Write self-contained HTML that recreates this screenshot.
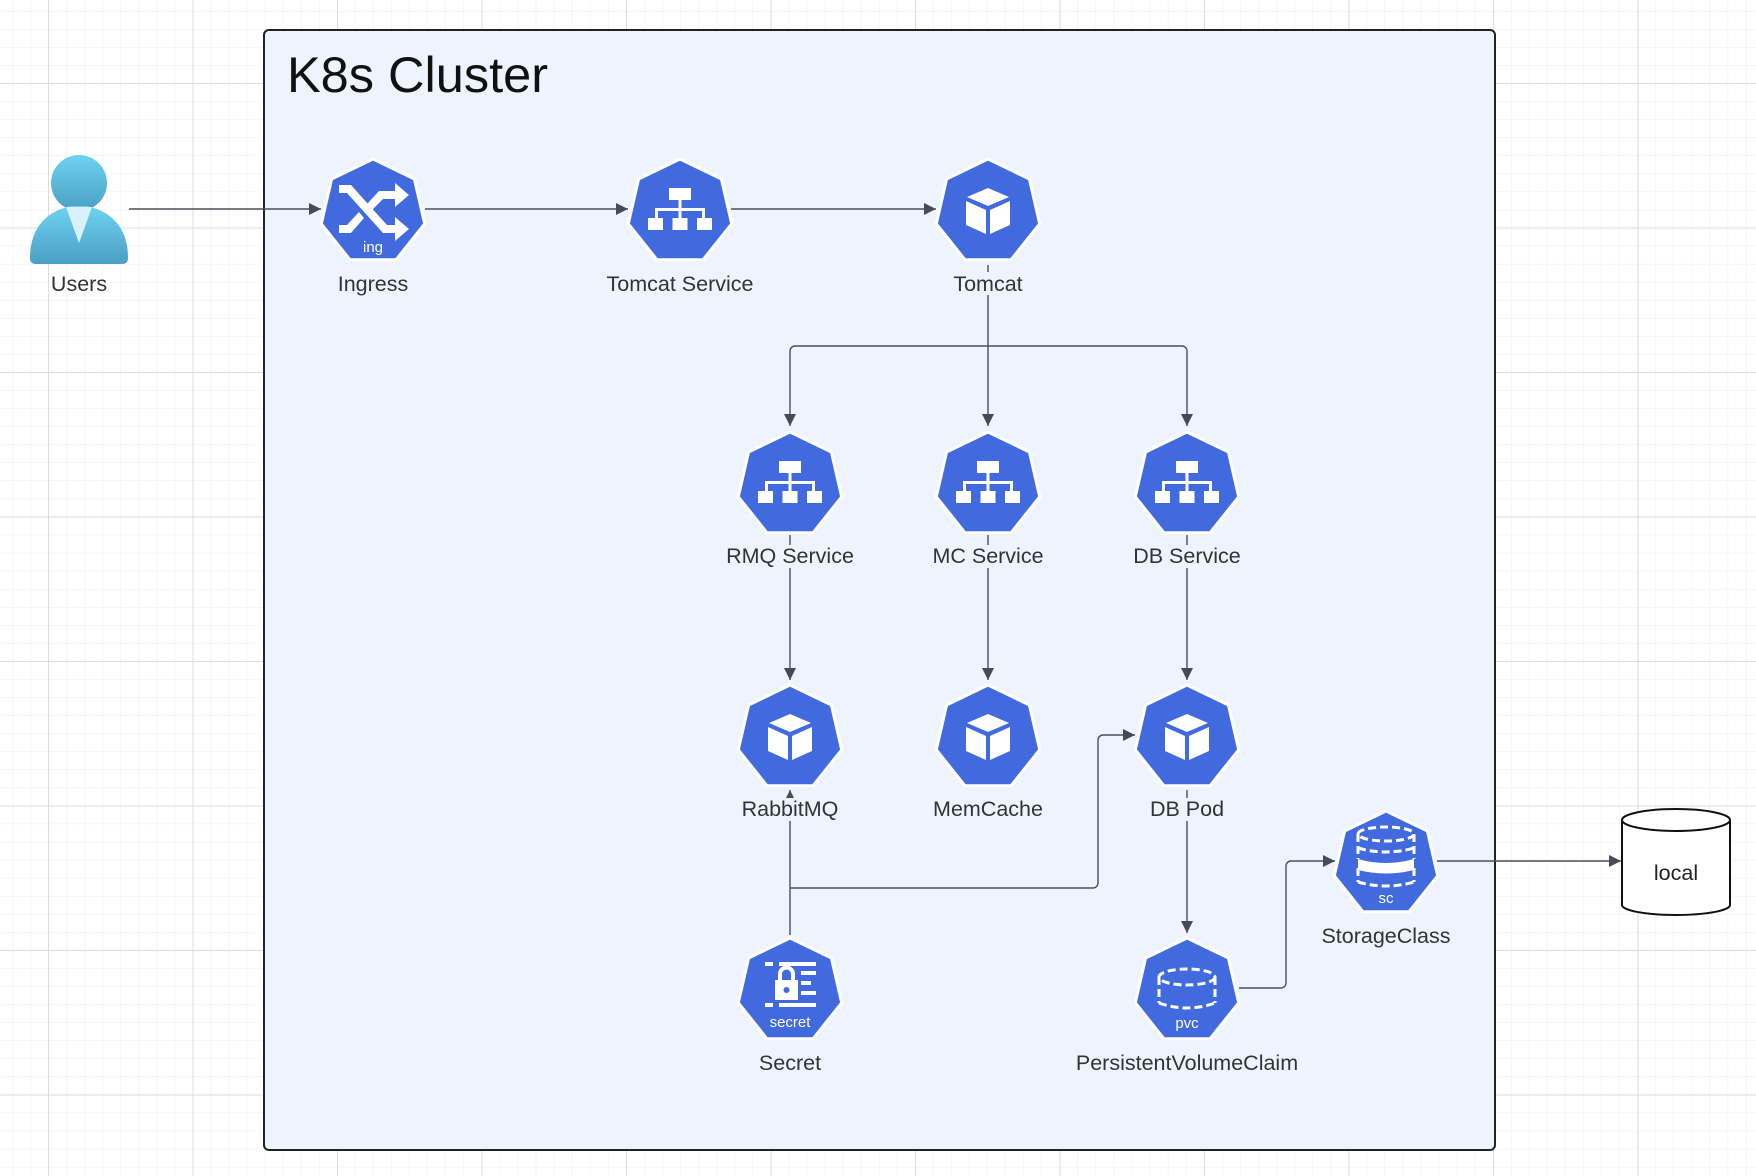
<!DOCTYPE html>
<html><head><meta charset="utf-8"><style>
html,body{margin:0;padding:0;width:1756px;height:1176px;overflow:hidden;background:#fff}
svg{display:block}
text{font-family:"Liberation Sans",sans-serif}
</style></head><body>
<svg width="1756" height="1176" viewBox="0 0 1756 1176" xmlns="http://www.w3.org/2000/svg">
<defs>
<pattern id="minor" x="12" y="11" width="18.06" height="18.06" patternUnits="userSpaceOnUse">
<path d="M0 0H18.06M0 0V18.06" stroke="#ececec" stroke-width="1" fill="none"/>
</pattern>
<pattern id="major" x="48" y="83" width="144.5" height="144.5" patternUnits="userSpaceOnUse">
<path d="M0 0H144.5M0 0V144.5" stroke="#dcdcdc" stroke-width="2" fill="none"/>
</pattern>
<marker id="ar" viewBox="0 0 10 10" refX="10" refY="5" markerWidth="12" markerHeight="12" markerUnits="userSpaceOnUse" orient="auto">
<path d="M0 0L10 5L0 10z" fill="#454b55"/>
</marker>
<linearGradient id="ug" x1="0" y1="0" x2="0" y2="1">
<stop offset="0" stop-color="#6dd3f0"/><stop offset="1" stop-color="#4b9fc4"/>
</linearGradient>
<g id="hep">
<polygon points="0,-53 41.4,-33 51.7,11.8 23,47.8 -23,47.8 -51.7,11.8 -41.4,-33" fill="#416ade" stroke="#fff" stroke-width="3" stroke-linejoin="round"/>
</g>
<g id="svc">
<use href="#hep"/>
<g fill="#fff">
<rect x="-11" y="-24" width="22" height="12"/>
<rect x="-1.5" y="-12" width="3" height="10"/>
<rect x="-25" y="-4" width="50" height="3"/>
<rect x="-25" y="-4" width="3" height="10"/>
<rect x="22" y="-4" width="3" height="10"/>
<rect x="-1.5" y="-4" width="3" height="10"/>
<rect x="-32" y="6" width="15" height="12"/>
<rect x="-7.5" y="6" width="15" height="12"/>
<rect x="17" y="6" width="15" height="12"/>
</g>
</g>
<g id="pod">
<use href="#hep"/>
<g fill="#fff">
<polygon points="0,-24 21,-15 0,-6 -21,-15"/>
<polygon points="-22,-11 -2,-2 -2,22 -22,13"/>
<polygon points="22,-11 2,-2 2,22 22,13"/>
</g>
</g>
</defs>
<rect width="1756" height="1176" fill="#fff"/>
<rect width="1756" height="1176" fill="url(#minor)"/>
<rect width="1756" height="1176" fill="url(#major)"/>

<rect x="264" y="30" width="1231" height="1120" rx="5" fill="#edf4fe" stroke="#222" stroke-width="2"/>
<text x="287" y="92" font-size="50.5" fill="#111">K8s Cluster</text>

<g stroke="#4a5059" stroke-width="1.4" fill="none">
<path d="M129 209H321" marker-end="url(#ar)"/>
<path d="M425 209H628" marker-end="url(#ar)"/>
<path d="M731 209H936" marker-end="url(#ar)"/>
<path d="M988 265V346"/>
<path d="M988 346V426" marker-end="url(#ar)"/>
<path d="M795 346H1182a5 5 0 0 1 5 5V426" marker-end="url(#ar)"/>
<path d="M795 346a5 5 0 0 0 -5 5V426" marker-end="url(#ar)"/>
<path d="M790 535V680" marker-end="url(#ar)"/>
<path d="M988 535V680" marker-end="url(#ar)"/>
<path d="M1187 535V680" marker-end="url(#ar)"/>
<path d="M790 935V790" marker-end="url(#ar)"/>
<path d="M790 888H1093a5 5 0 0 0 5 -5V740a5 5 0 0 1 5 -5H1135" marker-end="url(#ar)"/>
<path d="M1187 790V933" marker-end="url(#ar)"/>
<path d="M1239 988H1281a5 5 0 0 0 5 -5V866a5 5 0 0 1 5 -5H1335" marker-end="url(#ar)"/>
<path d="M1437 861H1621" marker-end="url(#ar)"/>
</g>

<g>
<circle cx="79" cy="183" r="28" fill="url(#ug)"/>
<path d="M30 258C30 225 50 210 72 206H86C108 210 128 225 128 258C128 262 126 264 122 264H36C32 264 30 262 30 258Z" fill="url(#ug)"/>
<polygon points="66,207 92,207 79,243" fill="#d8f2fb"/>
</g>

<g transform="translate(373,212)"><use href="#hep"/>
<g fill="#fff">
<path d="M-34 -27H-22L14 13H22V5L36 17L22 29V21H10L-26 -19H-34Z"/>
<path d="M-34 13H-26L-14 0L-9 6L-22 21H-34Z"/>
<path d="M-6 -8L6 -21H22V-29L36 -17L22 -5V-13H10L-1 -2Z"/>
</g>
<text x="0" y="40" font-size="15" fill="#fff" text-anchor="middle">ing</text>
</g>
<g transform="translate(680,212)"><use href="#svc"/></g>
<g transform="translate(988,212)"><use href="#pod"/></g>
<g transform="translate(790,485)"><use href="#svc"/></g>
<g transform="translate(988,485)"><use href="#svc"/></g>
<g transform="translate(1187,485)"><use href="#svc"/></g>
<g transform="translate(790,738)"><use href="#pod"/></g>
<g transform="translate(988,738)"><use href="#pod"/></g>
<g transform="translate(1187,738)"><use href="#pod"/></g>

<g transform="translate(1386,864)"><use href="#hep"/>
<g fill="none" stroke="#fff" stroke-width="3" stroke-dasharray="8 4">
<ellipse cx="0" cy="-30" rx="28" ry="7"/>
<path d="M-28 -30V-5M28 -30V-5"/>
<path d="M-28 -16Q0 -8 28 -16"/>
<path d="M-28 4V18M28 4V18"/>
<path d="M-28 18Q0 26 28 18"/>
</g>
<path d="M-28 -5Q0 3 28 -5V6Q0 13 -28 6Z" fill="#fff"/>
<text x="0" y="39" font-size="15" fill="#fff" text-anchor="middle">sc</text>
</g>

<g transform="translate(790,991)"><use href="#hep"/>
<g fill="#fff">
<rect x="-25" y="-29" width="8" height="4"/><rect x="-11" y="-29" width="37" height="4"/>
<rect x="11" y="-20" width="15" height="4"/><rect x="11" y="-10" width="10" height="4"/>
<rect x="11" y="0" width="15" height="4"/>
<rect x="-25" y="12" width="8" height="4"/><rect x="-11" y="12" width="37" height="4"/>
<rect x="-15" y="-11" width="23" height="20"/>
</g>
<path d="M-10 -11V-17a6.5 6.5 0 0 1 13 0V-11" fill="none" stroke="#fff" stroke-width="4"/>
<circle cx="-3.5" cy="-1" r="3" fill="#416ade"/>
<text x="0" y="36" font-size="15" fill="#fff" text-anchor="middle">secret</text>
</g>

<g transform="translate(1187,991)"><use href="#hep"/>
<g fill="none" stroke="#fff" stroke-width="3" stroke-dasharray="8 4">
<ellipse cx="0" cy="-14" rx="28" ry="8"/>
<path d="M-28 -14V12M28 -14V12"/>
<path d="M-28 12Q0 22 28 12"/>
</g>
<text x="0" y="37" font-size="15" fill="#fff" text-anchor="middle">pvc</text>
</g>

<g stroke="#111" stroke-width="2" fill="#fff">
<path d="M1622 820V905A54 10 0 0 0 1730 905V820"/>
<ellipse cx="1676" cy="820" rx="54" ry="11"/>
</g>
<text x="1676" y="880" font-size="21.5" fill="#222" text-anchor="middle">local</text>

<g font-size="21.5" fill="#333" text-anchor="middle">
<text x="79" y="291">Users</text>
<rect x="328" y="272" width="90" height="23" fill="#edf4fe"/><text x="373" y="291">Ingress</text>
<rect x="596" y="272" width="168" height="23" fill="#edf4fe"/><text x="680" y="291">Tomcat Service</text>
<rect x="946" y="272" width="84" height="23" fill="#edf4fe"/><text x="988" y="291">Tomcat</text>
<rect x="720" y="545" width="140" height="23" fill="#edf4fe"/><text x="790" y="563">RMQ Service</text>
<rect x="925" y="545" width="126" height="23" fill="#edf4fe"/><text x="988" y="563">MC Service</text>
<rect x="1126" y="545" width="122" height="23" fill="#edf4fe"/><text x="1187" y="563">DB Service</text>
<rect x="734" y="798" width="112" height="23" fill="#edf4fe"/><text x="790" y="816">RabbitMQ</text>
<text x="988" y="816">MemCache</text>
<rect x="1143" y="798" width="88" height="23" fill="#edf4fe"/><text x="1187" y="816">DB Pod</text>
<text x="1386" y="943">StorageClass</text>
<text x="790" y="1070">Secret</text>
<text x="1187" y="1070">PersistentVolumeClaim</text>
</g>
</svg>
</body></html>
